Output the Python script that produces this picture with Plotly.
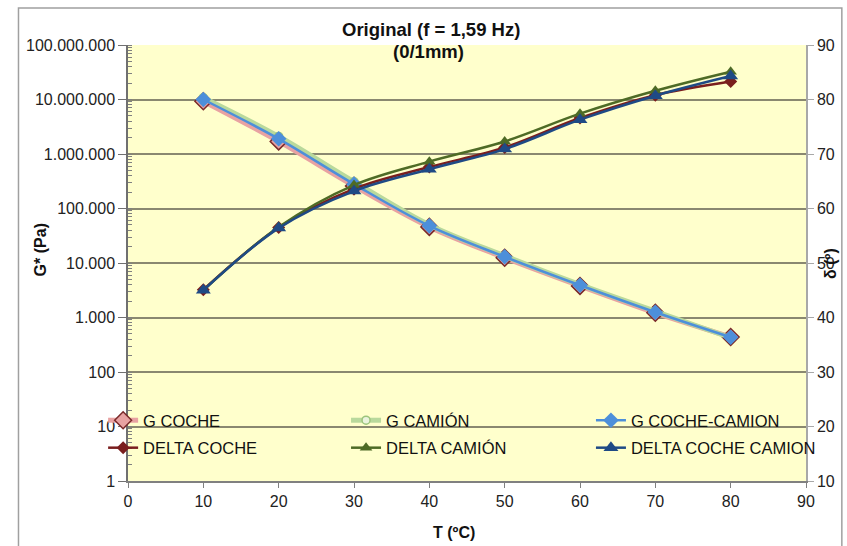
import plotly.graph_objects as go

# Temperature sweep (ºC)
temperature = [10, 20, 30, 40, 50, 60, 70, 80]

# Complex modulus G* (Pa)
g_coche = [9.3e6, 1.7e6, 2.6e5, 4.6e4, 1.25e4, 3.8e3, 1.22e3, 440]
g_camion = [1.08e7, 2.1e6, 3.1e5, 5.0e4, 1.35e4, 4.0e3, 1.3e3, 425]
g_coche_camion = [1.0e7, 1.9e6, 2.8e5, 4.8e4, 1.3e4, 3.9e3, 1.25e3, 435]

# Phase angle δ (º)
delta_coche = [45.1, 56.5, 63.6, 67.6, 71.2, 76.6, 80.8, 83.3]
delta_camion = [45.0, 56.6, 64.3, 68.6, 72.3, 77.4, 81.6, 85.1]
delta_coche_camion = [45.0, 56.4, 63.2, 67.2, 70.9, 76.3, 80.7, 84.3]

# Axis tick labels
g_tickvals = [1, 10, 100, 1e3, 1e4, 1e5, 1e6, 1e7, 1e8]
g_ticktext = ["1", "10", "100", "1.000", "10.000", "100.000",
              "1.000.000", "10.000.000", "100.000.000"]

FONT = "Liberation Sans, Arial, sans-serif"
TICK_SIZE = 16

fig = go.Figure()

# --- G* series on the left (log) axis ---
fig.add_trace(go.Scatter(
    x=temperature, y=g_coche, name="G COCHE", legend="legend", legendgroup="a1",
    mode="lines+markers", line=dict(color="#E8A2A2", width=5, shape="spline"),
    marker=dict(symbol="diamond", size=13, color="#E8A2A2",
                line=dict(color="#7A2A2A", width=1.5)),
))
fig.add_trace(go.Scatter(
    x=temperature, y=g_camion, name="G CAMIÓN", legend="legend2", legendgroup="b1",
    mode="lines+markers", line=dict(color="#B9D99C", width=5, shape="spline"),
    marker=dict(symbol="circle", size=8, color="#EAF3DC",
                line=dict(color="#9CC47C", width=1.5)),
))
fig.add_trace(go.Scatter(
    x=temperature, y=g_coche_camion, name="G COCHE-CAMION", legend="legend3",
    legendgroup="c1",
    mode="lines+markers", line=dict(color="#4D8FDA", width=2.5, shape="spline"),
    marker=dict(symbol="diamond", size=12, color="#4D8FDA", line=dict(width=0)),
))

# --- δ series on the right axis ---
fig.add_trace(go.Scatter(
    x=temperature, y=delta_coche, name="DELTA COCHE", legend="legend",
    legendgroup="a2", yaxis="y2",
    mode="lines+markers", line=dict(color="#7A1E1E", width=2.5, shape="spline"),
    marker=dict(symbol="diamond", size=10, color="#7A1E1E"),
))
fig.add_trace(go.Scatter(
    x=temperature, y=delta_camion, name="DELTA CAMIÓN", legend="legend2",
    legendgroup="b2", yaxis="y2",
    mode="lines+markers", line=dict(color="#4E6B26", width=2.5, shape="spline"),
    marker=dict(symbol="triangle-up", size=11, color="#4E6B26"),
))
fig.add_trace(go.Scatter(
    x=temperature, y=delta_coche_camion, name="DELTA COCHE CAMION",
    legend="legend3", legendgroup="c2", yaxis="y2",
    mode="lines+markers", line=dict(color="#1F4A85", width=2.5, shape="spline"),
    marker=dict(symbol="triangle-up", size=13, color="#1F4A85"),
))

L, R, T, B = 128, 38, 45, 65
W, H = 847, 546
pw, ph = W - L - R, H - T - B


def px_x(x):
    return (x - L) / pw


def px_y(y):
    return (H - B - y) / ph


legend_common = dict(
    orientation="v", yanchor="top", xanchor="left",
    bgcolor="rgba(0,0,0,0)", tracegroupgap=3,
    font=dict(family=FONT, size=16.5, color="#111111"),
)

fig.update_layout(
    width=W, height=H,
    margin=dict(l=L, r=R, t=T, b=B, pad=0),
    paper_bgcolor="white",
    plot_bgcolor="#FFFFCC",
    font=dict(family=FONT, size=TICK_SIZE, color="#222222"),
    showlegend=True,
    legend=dict(x=px_x(103), y=px_y(403), **legend_common),
    legend2=dict(x=px_x(347), y=px_y(403), **legend_common),
    legend3=dict(x=px_x(593), y=px_y(403), **legend_common),
    xaxis=dict(
        range=[0, 90], dtick=10, tick0=0, showgrid=False, zeroline=False,
        showline=True, linecolor="#808080", linewidth=1.5,
        ticks="outside", ticklen=5, tickcolor="#808080",
        tickfont=dict(family=FONT, size=TICK_SIZE, color="#222222"),
    ),
    yaxis=dict(
        type="log", range=[0, 8], tickvals=g_tickvals, ticktext=g_ticktext,
        showgrid=True, gridcolor="#8A8870", gridwidth=2, zeroline=False,
        showline=True, linecolor="#707070", linewidth=1.5,
        ticks="outside", ticklen=8, tickcolor="#707070",
        minor=dict(ticks="inside", ticklen=4, tickcolor="#808080",
                   dtick="D1", showgrid=False),
        tickfont=dict(family=FONT, size=TICK_SIZE, color="#222222"),
    ),
    yaxis2=dict(
        overlaying="y", side="right", range=[10, 90], dtick=10, tick0=10,
        showgrid=False, zeroline=False,
        showline=True, linecolor="#A8A8A8", linewidth=1.5,
        ticks="outside", ticklen=6, tickcolor="#A8A8A8",
        tickfont=dict(family=FONT, size=TICK_SIZE, color="#222222"),
    ),
)


def label(text, x, y, size, angle=0):
    fig.add_annotation(text=text, x=px_x(x), y=px_y(y), textangle=angle,
                       xref="paper", yref="paper", xanchor="center",
                       yanchor="middle", showarrow=False,
                       font=dict(family=FONT, size=size, color="#111111"))


# Titles
label("<b>Original (f = 1,59 Hz)</b>", 432, 30, 18.5)
label("<b>(0/1mm)</b>", 430, 52, 18.5)
label("<b>G* (Pa)</b>", 40, 250, 16, -90)
label("<b>δ (º)</b>", 833, 263, 16, -90)
label("<b>T (ºC)</b>", 455, 532, 16)

# Chart frame
fig.add_shape(type="rect", xref="paper", yref="paper",
              x0=px_x(18), x1=px_x(845), y0=px_y(556), y1=px_y(8),
              line=dict(color="#A0A0A0", width=1.5), fillcolor="rgba(0,0,0,0)",
              layer="below")

fig.write_html("out.html")
